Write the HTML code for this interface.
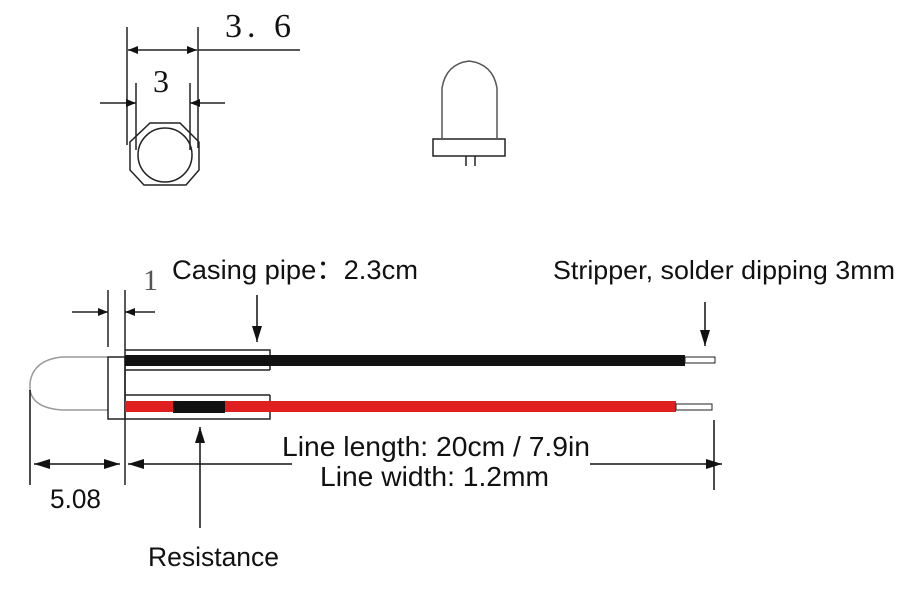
<!DOCTYPE html>
<html><head><meta charset="utf-8"><style>body{margin:0;background:#fff}svg{display:block}</style></head>
<body>
<svg width="900" height="592" viewBox="0 0 900 592" xmlns="http://www.w3.org/2000/svg">
<defs>
<marker id="a" markerWidth="10" markerHeight="8" refX="10" refY="4" orient="auto" markerUnits="userSpaceOnUse"><path d="M0,0 L10,4 L0,8 Z" fill="#111"/></marker>
<marker id="b" markerWidth="16" markerHeight="10" refX="16" refY="5" orient="auto" markerUnits="userSpaceOnUse"><path d="M0,0 L16,5 L0,10 Z" fill="#111"/></marker>
</defs>
<g stroke="#222" stroke-width="1.5" fill="none">
<line x1="127" y1="27" x2="127" y2="145"/>
<line x1="198" y1="27" x2="198" y2="148"/>
<line x1="198" y1="50" x2="300" y2="50"/>
<line x1="160" y1="50" x2="128" y2="50" marker-end="url(#a)"/>
<line x1="160" y1="50" x2="197" y2="50" marker-end="url(#a)"/>
<line x1="136" y1="83" x2="136" y2="150"/>
<line x1="190" y1="83" x2="190" y2="150"/>
<line x1="100" y1="103" x2="136" y2="103" marker-end="url(#a)"/>
<line x1="225" y1="103" x2="190" y2="103" marker-end="url(#a)"/>
<polygon points="150,123 180,123 199,142 199,170 186,185 144,185 130,170 130,142"/>
<circle cx="165" cy="155" r="27"/>
<path d="M442,138 L442,88 Q446,64 469,61 Q493,64 497,88 L497,138" stroke="#555"/>
<rect x="433" y="139" width="72" height="17"/>
<line x1="466" y1="156" x2="466" y2="166"/>
<line x1="475" y1="156" x2="475" y2="166"/>
<path d="M108,357 L62,357 Q33,360 30,383 L30,390 Q33,408 62,410 L108,410" stroke="#999"/>
<rect x="108" y="357" width="17" height="62"/>
<line x1="108" y1="290" x2="108" y2="347"/>
<line x1="125" y1="290" x2="125" y2="485"/>
<line x1="72" y1="312" x2="108" y2="312" marker-end="url(#a)"/>
<line x1="155" y1="312" x2="125" y2="312" marker-end="url(#a)"/>
<polyline points="125,350 270,350 270,370"/>
<line x1="125" y1="370" x2="270" y2="370"/>
<line x1="125" y1="395" x2="270" y2="395"/>
<polyline points="125,419 270,419 270,395"/>
</g>
<rect x="125" y="355" width="560" height="11" fill="#111"/>
<rect x="685" y="357" width="30" height="6" fill="#fff" stroke="#222" stroke-width="1"/>
<rect x="125" y="401" width="551" height="11" fill="#e02020"/>
<rect x="676" y="404" width="36" height="6" fill="#fff" stroke="#222" stroke-width="1"/>
<rect x="173" y="401" width="52" height="12" fill="#111"/>
<g stroke="#111" stroke-width="1.5" fill="none">
<line x1="257" y1="295" x2="257" y2="342" marker-end="url(#b)"/>
<line x1="705" y1="302" x2="705" y2="346" marker-end="url(#b)"/>
<line x1="200" y1="528" x2="200" y2="427" marker-end="url(#b)"/>
<line x1="30" y1="390" x2="30" y2="485"/>
<line x1="714" y1="420" x2="714" y2="490"/>
<line x1="75" y1="464" x2="34" y2="464" marker-end="url(#b)"/>
<line x1="75" y1="464" x2="120" y2="464" marker-end="url(#b)"/>
<line x1="292" y1="464" x2="128" y2="464" marker-end="url(#b)"/>
<line x1="590" y1="464" x2="722" y2="464" marker-end="url(#b)"/>
</g>
<g font-family="Liberation Sans, DejaVu Sans, sans-serif" fill="#111">
<text x="225" y="37" font-family="Liberation Serif, serif" font-size="34" textLength="66">3. 6</text>
<text x="153" y="92" font-family="Liberation Serif, serif" font-size="32">3</text>
<text x="143" y="290" font-family="Liberation Serif, serif" font-size="30" fill="#555">1</text>
<text x="172" y="279" font-size="27" textLength="246" lengthAdjust="spacingAndGlyphs">Casing pipe：2.3cm</text>
<text x="553" y="279" font-size="26" textLength="342" lengthAdjust="spacingAndGlyphs">Stripper, solder dipping 3mm</text>
<text x="282" y="456" font-size="28" textLength="308" lengthAdjust="spacingAndGlyphs">Line length: 20cm / 7.9in</text>
<text x="320" y="486" font-size="28" textLength="229" lengthAdjust="spacingAndGlyphs">Line width: 1.2mm</text>
<text x="50" y="508" font-size="27" textLength="51" lengthAdjust="spacingAndGlyphs">5.08</text>
<text x="148" y="566" font-size="27" textLength="131" lengthAdjust="spacingAndGlyphs">Resistance</text>
</g>
</svg>
</body></html>
